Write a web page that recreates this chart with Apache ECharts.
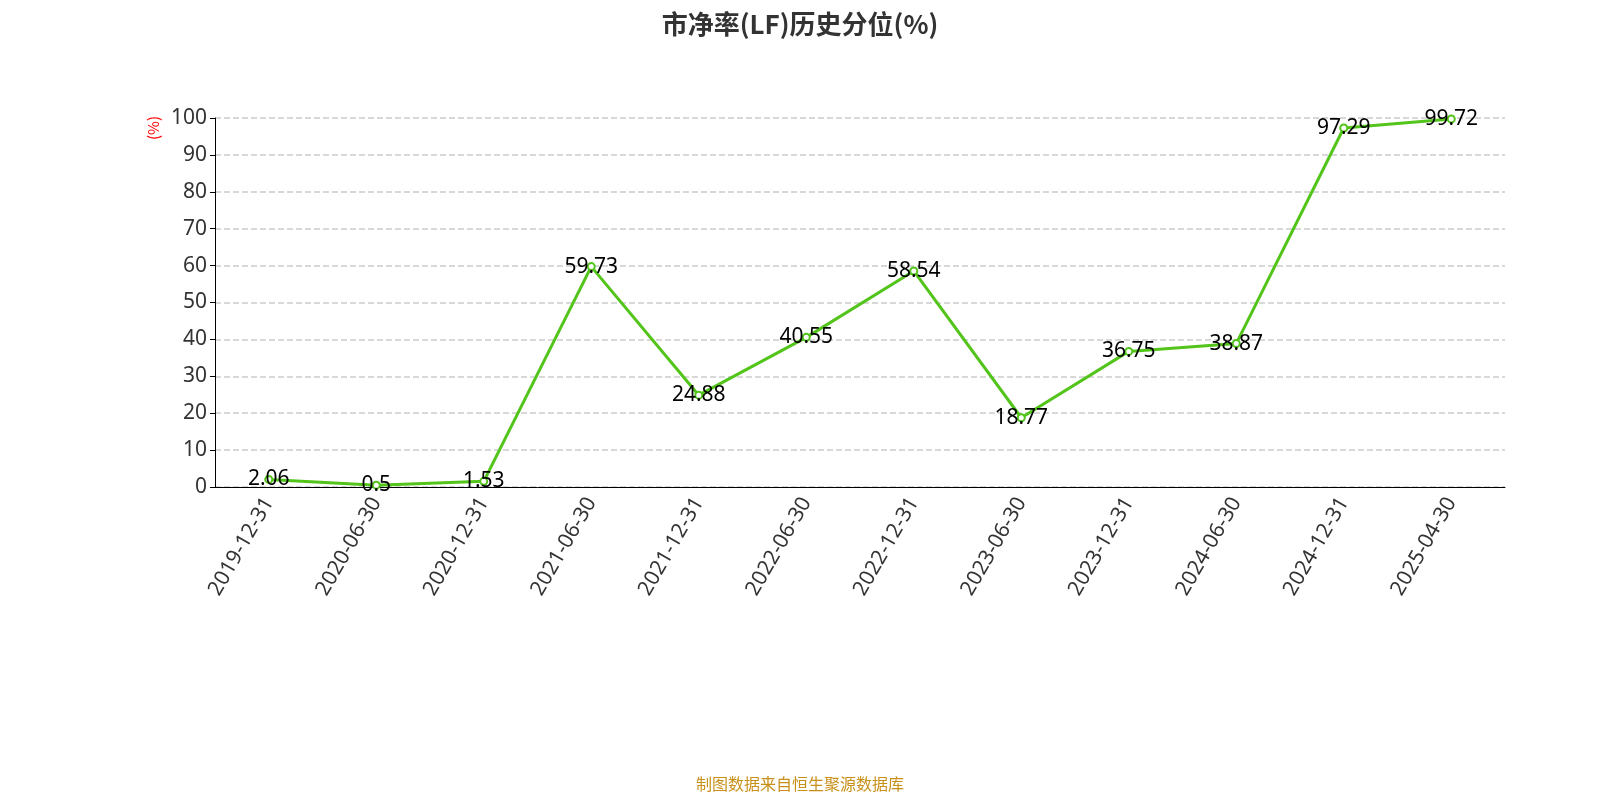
<!DOCTYPE html><html><head><meta charset="utf-8">
<script src="https://cdn.jsdelivr.net/npm/echarts@6/dist/echarts.min.js"></script>
<style>body{margin:0}#c{width:1600px;height:800px}</style></head><body><div id="c"></div>
<script>
const categories=['2019-12-31','2020-06-30','2020-12-31','2021-06-30','2021-12-31','2022-06-30','2022-12-31','2023-06-30','2023-12-31','2024-06-30','2024-12-31','2025-04-30'];
const values=[2.06,0.5,1.53,59.73,24.88,40.55,58.54,18.77,36.75,38.87,97.29,99.72];
const F='Noto Sans';
const chart=echarts.init(document.getElementById('c'));
chart.setOption({
 textStyle:{fontFamily:F},
 title:{text:'市净率(LF)历史分位(%)',left:'center',top:6,textStyle:{fontSize:26,fontWeight:'bold',color:'#333',fontFamily:'Noto Sans CJK SC'}},
 graphic:[{type:'text',left:'center',bottom:8,style:{text:'制图数据来自恒生聚源数据库',fill:'#c8901a',fontSize:16,fontFamily:'Noto Sans CJK SC'}},
  {type:'text',x:146,y:140,rotation:Math.PI/2,style:{text:'(%)',fill:'red',fontSize:15,fontFamily:'Noto Sans CJK SC'}}],
 grid:{left:215,right:95,top:118,bottom:313},
 xAxis:{type:'category',data:categories,boundaryGap:true,axisLine:{lineStyle:{color:'#000'}},axisTick:{lineStyle:{color:'#000'},length:6},
  axisLabel:{rotate:60,fontSize:21,color:'#333',interval:0,margin:12,fontFamily:F}},
 yAxis:{type:'value',min:0,max:100,interval:10,axisLine:{show:true,lineStyle:{color:'#000'}},axisTick:{show:true,lineStyle:{color:'#000'}},
  axisLabel:{fontSize:21,color:'#333',fontFamily:F},splitLine:{lineStyle:{type:'dashed',color:'#ccc',width:1.5}}},
 series:[{type:'line',data:values,symbol:'emptyCircle',symbolSize:7,lineStyle:{color:'#52c41a',width:3},itemStyle:{color:'#52c41a'},
  label:{show:true,position:'inside',fontSize:21,color:'#000',fontFamily:F}}]
});
</script></body></html>
